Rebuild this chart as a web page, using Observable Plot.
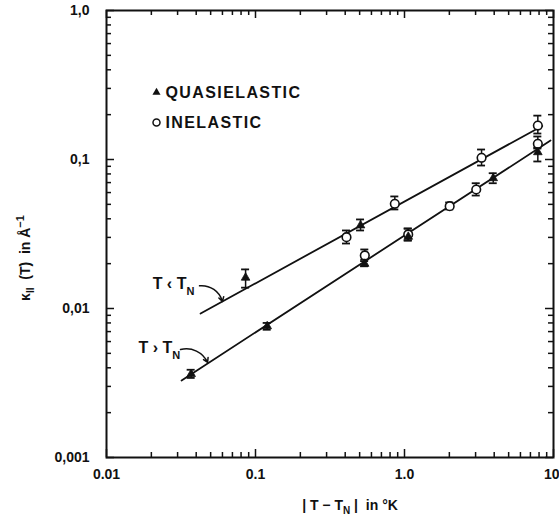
<!DOCTYPE html>
<html><head><meta charset="utf-8">
<script src="https://cdn.jsdelivr.net/npm/d3@7"></script>
<script src="https://cdn.jsdelivr.net/npm/@observablehq/plot@0.6"></script>
<style>
body{margin:0;background:#fff;}
#chart svg{display:block;overflow:hidden;}
#info{position:absolute;left:0;top:0;width:1px;height:1px;overflow:hidden;opacity:0;}
</style></head><body><div id="chart"></div><div id="info"></div>
<script>
// axis ticks
const xTicks = [0.01, 0.1, 1, 10];
const xTickLabels = ["0.01", "0.1", "1.0", "10"];
const yTicks = [0.001, 0.01, 0.1, 1];
const yTickLabels = ["0,001", "0,01", "0,1", "1,0"];
const xMinor = [0.02,0.03,0.04,0.05,0.06,0.07,0.08,0.09, 0.2,0.3,0.4,0.5,0.6,0.7,0.8,0.9, 2,3,4,5,6,7,8,9];
const yMinor = [0.002,0.003,0.004,0.005,0.006,0.007,0.008,0.009, 0.02,0.03,0.04,0.05,0.06,0.07,0.08,0.09, 0.2,0.3,0.4,0.5,0.6,0.7,0.8,0.9];

// quasielastic (filled triangles)
const quasiX  = [0.0858, 0.507, 0.037,   0.1198, 0.54,   1.06,   3.94,   7.85];
const quasiY  = [0.0161, 0.0361, 0.00363, 0.0076, 0.01995, 0.0303, 0.0749, 0.1119];
const quasiLo = [0.0138, 0.0334, 0.00342, 0.0072, 0.0192, 0.0286, 0.0693, 0.097];
const quasiHi = [0.0183, 0.0396, 0.00388, 0.0080, 0.0208, 0.0344, 0.0809, 0.1204];

// inelastic (open circles)
const inelX  = [0.408, 0.861, 3.29, 7.85, 0.5415, 1.059, 2.01, 3.03, 7.85];
const inelY  = [0.0301, 0.0504, 0.1026, 0.169, 0.0227, 0.0314, 0.0486, 0.0629, 0.1274];
const inelLo = [0.0273, 0.0462, 0.0911, 0.1494, 0.0213, 0.0286, 0.0462, 0.0573, 0.1185];
const inelHi = [0.0334, 0.0565, 0.1167, 0.197, 0.0249, 0.0344, 0.0515, 0.0693, 0.1427];

// fitted lines
const belowTNx = [0.0428, 8.40];
const belowTNy = [0.00926, 0.168];
const aboveTNx = [0.0319, 9.55];
const aboveTNy = [0.00329, 0.134];

// annotations
const annotText = ["T ‹ T", "T › T"];
const annotX = [0.0204, 0.0164];
const annotY = [0.0147, 0.0054];
const arrowX1 = [0.0421, 0.0314];
const arrowY1 = [0.0142, 0.0053];
const arrowX2 = [0.060, 0.0477];
const arrowY2 = [0.01114, 0.00434];

const legendLabels = ["QUASIELASTIC", "INELASTIC"];

const quasi = quasiX.map((x, i) => ({x, y: quasiY[i], lo: quasiLo[i], hi: quasiHi[i]}));
const inel = inelX.map((x, i) => ({x, y: inelY[i], lo: inelLo[i], hi: inelHi[i]}));
const all = quasi.concat(inel);
const lineA = belowTNx.map((x, i) => ({x, y: belowTNy[i]}));
const lineB = aboveTNx.map((x, i) => ({x, y: aboveTNy[i]}));
const annots = annotText.map((t, i) => ({t, x: annotX[i], y: annotY[i], x1: arrowX1[i], y1: arrowY1[i], x2: arrowX2[i], y2: arrowY2[i]}));

const MAJ = 8, MIN = 5;
const font = "'Liberation Sans', Arial, sans-serif";
const fmt = (ticks, labels) => d => labels[ticks.indexOf(d)];

// inward ticks: rules anchored on the frame with pixel insets
const W = 559, H = 518, ML = 106, MR = 6, MT = 10, MB = 61;
const PW = W - ML - MR, PH = H - MT - MB;
const ts = {strokeWidth: 1.5, stroke: "#111"};
const tickMarks = [
  Plot.ruleY(yTicks, {y: d => d, insetRight: PW - MAJ, ...ts}),
  Plot.ruleY(yMinor, {y: d => d, insetRight: PW - MIN, ...ts}),
  Plot.ruleY(yTicks, {y: d => d, insetLeft: PW - MAJ, ...ts}),
  Plot.ruleY(yMinor, {y: d => d, insetLeft: PW - MIN, ...ts}),
  Plot.ruleX(xTicks, {x: d => d, insetTop: PH - MAJ, ...ts}),
  Plot.ruleX(xMinor, {x: d => d, insetTop: PH - MIN, ...ts}),
  Plot.ruleX(xTicks, {x: d => d, insetBottom: PH - MAJ, ...ts}),
  Plot.ruleX(xMinor, {x: d => d, insetBottom: PH - MIN, ...ts})
];

const plot = Plot.plot({
  width: W, height: H,
  marginLeft: ML, marginRight: MR, marginTop: MT, marginBottom: MB,
  style: {fontFamily: font, fontSize: "14px", fontWeight: "bold", color: "#111"},
  x: {type: "log", domain: [0.01, 10], label: null, axis: null},
  y: {type: "log", domain: [0.001, 1], label: null, axis: null},
  marks: [
    Plot.frame({strokeWidth: 2, stroke: "#111", fill: "none"}),
    ...tickMarks,
    // tick labels
    Plot.axisY(yTicks, {anchor: "left", tickSize: 0, tickPadding: 17, label: null, tickFormat: fmt(yTicks, yTickLabels), fontSize: 14}),
    Plot.axisX(xTicks.slice(0, 3), {anchor: "bottom", tickSize: 0, tickPadding: 12, label: null, tickFormat: fmt(xTicks, xTickLabels), fontSize: 14}),
    Plot.axisX(xTicks.slice(3), {anchor: "bottom", tickSize: 0, tickPadding: 12, label: null, tickFormat: fmt(xTicks, xTickLabels), fontSize: 14, textAnchor: "end", dx: 6}),
    // fitted lines
    Plot.line(lineA, {x: "x", y: "y", strokeWidth: 1.8, stroke: "#111"}),
    Plot.line(lineB, {x: "x", y: "y", strokeWidth: 1.8, stroke: "#111"}),
    // error bars
    Plot.ruleX(all, {x: "x", y1: "lo", y2: "hi", strokeWidth: 1.5, stroke: "#111"}),
    Plot.ruleY(all, {y: "hi", x1: "x", x2: "x", insetLeft: -4, insetRight: -4, strokeWidth: 1.8, stroke: "#111"}),
    Plot.ruleY(all, {y: "lo", x1: "x", x2: "x", insetLeft: -4, insetRight: -4, strokeWidth: 1.8, stroke: "#111"}),
    // points
    Plot.dot(inel, {x: "x", y: "y", r: 4.3, fill: "#fff", stroke: "#111", strokeWidth: 1.6}),
    Plot.dot(quasi, {x: "x", y: "y", symbol: "triangle", r: 3.2, fill: "#111", stroke: "#111", strokeWidth: 0.8}),
    // annotations
    Plot.text(annots, {x: "x", y: "y", text: "t", textAnchor: "start", fontSize: 16}),
    Plot.arrow(annots, {x1: "x1", y1: "y1", x2: "x2", y2: "y2", bend: 40, headLength: 5, strokeWidth: 1.5, stroke: "#111"}),
    // legend
    Plot.dot([legendLabels[0]], {frameAnchor: "top-left", dx: 50, dy: 82, symbol: "triangle", r: 3, fill: "#111"}),
    Plot.text([legendLabels[0]], {frameAnchor: "top-left", lineAnchor: "middle", dx: 59, dy: 82, text: d => d, textAnchor: "start", fontSize: 16}),
    Plot.dot([legendLabels[1]], {frameAnchor: "top-left", dx: 50, dy: 112, symbol: "circle", r: 3.5, fill: "#fff", stroke: "#111", strokeWidth: 1.5}),
    Plot.text([legendLabels[1]], {frameAnchor: "top-left", lineAnchor: "middle", dx: 59, dy: 112, text: d => d, textAnchor: "start", fontSize: 16})
  ]
});

const svg = d3.select(plot);
svg.selectAll("text").filter(function() { return legendLabels.includes(this.textContent); })
  .attr("letter-spacing", "1.4px");
svg.selectAll("text").filter(function() { return annotText.includes(this.textContent); })
  .each(function() { d3.select(this).append("tspan").attr("dy", 6).attr("font-size", 11).text("N"); });

// axis titles
const xl = svg.append("text").attr("x", 350).attr("y", 510).attr("text-anchor", "middle")
  .attr("font-size", 14).attr("fill", "#111");
xl.append("tspan").text("| T − T");
xl.append("tspan").attr("dy", 4).attr("font-size", 10).text("N");
xl.append("tspan").attr("dy", -4).text(" |  in °K");

const yl = svg.append("text").attr("transform", "translate(30,258) rotate(-90)").attr("text-anchor", "middle")
  .attr("font-size", 14).attr("fill", "#111");
yl.append("tspan").text("κ");
yl.append("tspan").attr("dy", 4).attr("font-size", 10).text("II");
yl.append("tspan").attr("dy", -4).text("  (T)  in Å");
yl.append("tspan").attr("dy", -6).attr("font-size", 11).text("−1");

document.getElementById("chart").appendChild(plot);

// tick count summary (kept invisible)
const gs = [...plot.querySelectorAll("g")].filter(g => g.getAttribute("aria-label") === "rule");
document.getElementById("info").textContent = gs.map(g => g.children.length).join(",");
</script>
</body></html>
